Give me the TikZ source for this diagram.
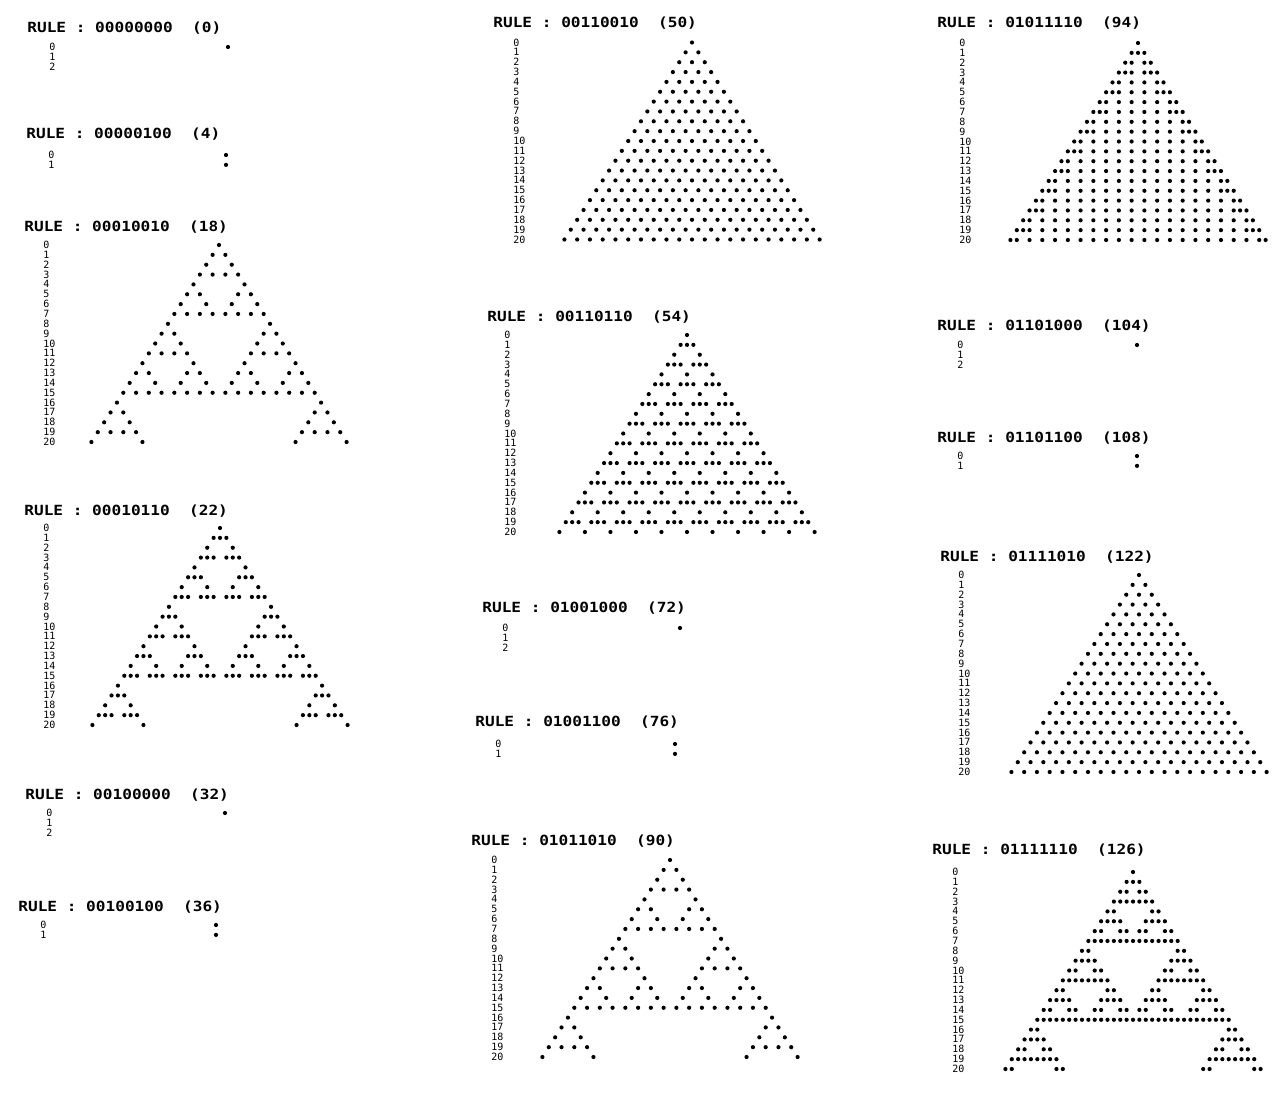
\documentclass[tikz,border=0pt]{standalone}
\usepackage{fontspec}
\newfontfamily\hdrfont[FakeStretch=1.15]{DejaVu Sans Mono}
\newfontfamily\lblfont{DejaVu Sans Mono}

\newcount\cabits
\newcommand{\cacell}[3]{\ifcsname ca#1r#2c#3\endcsname\csname ca#1r#2c#3\endcsname\else0\fi}
\newcommand{\capow}[1]{\ifcase#1 1\or2\or4\or8\or16\or32\or64\or128\fi}

% #1 rule, #2 bits, #3 last row, #4,#5 title, #6 row numbers, #7,#8 first cell
\newcommand{\rulepanel}[8]{%
  \node[rulehdr] (hdr#1) at (#4,{#5+5}) {RULE : #2\ \ (#1)};
  \foreach \rw in {0,...,#3}
    \node[rowlbl] (lbl#1-\rw) at (#6,{#8+\rw*9.85+3.5}) {\rw};
  \expandafter\gdef\csname ca#1r0c0\endcsname{1}%
  \fill[cadot] (#7,#8) circle (1.05pt);
  \foreach \rw [evaluate=\rw as \pr using int(\rw-1)] in {1,...,#3} {
    \foreach \cc [evaluate=\cc as \lc using int(\cc-1),
                  evaluate=\cc as \rc using int(\cc+1)] in {-\rw,...,\rw} {
      \cabits=#1\relax
      \divide\cabits by \capow{\numexpr4*\cacell{#1}{\pr}{\lc}+2*\cacell{#1}{\pr}{\cc}+\cacell{#1}{\pr}{\rc}\relax}\relax
      \ifodd\cabits
        \expandafter\xdef\csname ca#1r\rw c\cc\endcsname{1}%
        \fill[cadot] ({#7+\cc*6.38},{#8+\rw*9.85}) circle (1.05pt);
      \fi
    }%
  }%
}

\begin{document}
\begin{tikzpicture}[
  x=0.5pt, y=-0.5pt,
  rulehdr/.style={anchor=base west, inner sep=0pt, font={\fontsize{7}{8}\hdrfont\bfseries}},
  rowlbl/.style={anchor=base west, inner sep=0pt, font={\fontsize{5}{6}\lblfont}},
  cadot/.style={fill=black}
]
  \useasboundingbox (0,0) rectangle (1284,1093);

  \rulepanel{0}{00000000}{2}{27}{27}{49}{228}{47}
  \rulepanel{4}{00000100}{1}{26}{133}{48}{226}{155}
  \rulepanel{18}{00010010}{20}{24}{226}{43}{219}{245}
  \rulepanel{22}{00010110}{20}{24}{510}{43}{220}{528}
  \rulepanel{32}{00100000}{2}{25}{794}{46}{225}{813}
  \rulepanel{36}{00100100}{1}{18}{906}{40}{216}{925}

  \rulepanel{50}{00110010}{20}{493}{22}{513}{692}{42.5}
  \rulepanel{54}{00110110}{20}{487}{316}{504}{687}{335}
  \rulepanel{72}{01001000}{2}{482}{607}{502}{680}{628}
  \rulepanel{76}{01001100}{1}{475}{721}{495}{675}{744}
  \rulepanel{90}{01011010}{20}{471}{840}{491}{670}{860}

  \rulepanel{94}{01011110}{20}{937}{22}{959}{1138}{43}
  \rulepanel{104}{01101000}{2}{937}{325}{957}{1137}{345}
  \rulepanel{108}{01101100}{1}{937}{437}{957}{1137}{456}
  \rulepanel{122}{01111010}{20}{940}{556}{958}{1139}{575}
  \rulepanel{126}{01111110}{20}{932}{849}{952}{1133}{872}
\end{tikzpicture}
\end{document}
